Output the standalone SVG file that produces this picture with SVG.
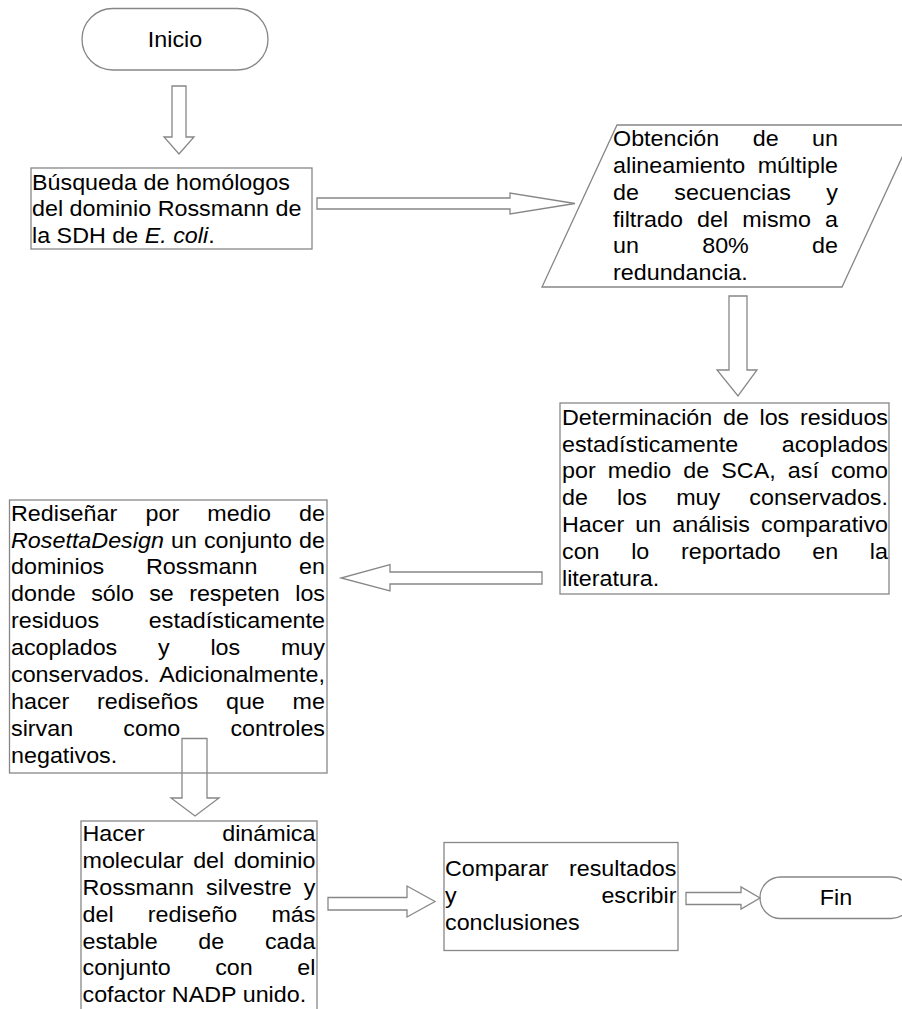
<svg xmlns="http://www.w3.org/2000/svg" width="902" height="1009" viewBox="0 0 902 1009">
<style>
.shape{fill:#fff;stroke:#878787;stroke-width:1.3}
.arrow{fill:none;stroke:#878787;stroke-width:1.3;stroke-linejoin:miter}
text{font-family:"Liberation Sans",Arial,sans-serif;font-size:22px;fill:#000}
.e{text-anchor:end}
.m{text-anchor:middle}
.i{font-style:italic}
</style>
<rect width="902" height="1009" fill="#fff"/>

<g id="n-inicio">
<rect class="shape" x="82" y="8.5" width="186" height="61.5" rx="30.75"/>
<g transform="translate(175 0) scale(1.06 1) translate(-175 0)"><text class="m" x="175" y="46.7">Inicio</text></g>
</g>

<g id="n-busqueda">
<rect class="shape" x="31" y="168" width="281" height="81"/>
<g transform="translate(32 0) scale(1.06 1) translate(-32 0)">
<text x="32" y="190">Búsqueda de homólogos</text>
<text x="32" y="216.5">del dominio Rossmann de</text>
<text x="32" y="243">la SDH de <tspan class="i">E. coli</tspan>.</text>
</g>
</g>

<g id="n-obtencion">
<polygon class="shape" points="617,125 917,125 842,287 542,287"/>
<g transform="translate(613 0) scale(1.06 1) translate(-613 0)">
<text y="146.5"><tspan x="613">Obtención</tspan><tspan x="744.83">de</tspan></text><text class="e" x="825.3" y="146.5">un</text>
<text x="613" y="173.2">alineamiento</text><text class="e" x="825.3" y="173.2">múltiple</text>
<text y="199.9"><tspan x="613">de</tspan><tspan x="670.86">secuencias</tspan></text><text class="e" x="825.3" y="199.9">y</text>
<text y="226.6"><tspan x="613">filtrado</tspan><tspan x="692.33">del</tspan><tspan x="734.99">mismo</tspan></text><text class="e" x="825.3" y="226.6">a</text>
<text y="253.3"><tspan x="613">un</tspan><tspan x="697.14">80%</tspan></text><text class="e" x="825.3" y="253.3">de</text>
<text x="613" y="280">redundancia.</text>
</g>
</g>

<g id="n-determinacion">
<rect class="shape" x="560" y="403" width="329" height="191"/>
<g transform="translate(562 0) scale(1.06 1) translate(-562 0)">
<text y="424.7"><tspan x="562">Determinación</tspan><tspan x="713.82">de</tspan><tspan x="748.29">los</tspan></text><text class="e" x="869.55" y="424.7">residuos</text>
<text x="562" y="451.6">estadísticamente</text><text class="e" x="869.55" y="451.6">acoplados</text>
<text y="478.5"><tspan x="562">por</tspan><tspan x="605.17">medio</tspan><tspan x="676.46">de</tspan><tspan x="712.3">SCA,</tspan><tspan x="775.03">así</tspan></text><text class="e" x="869.55" y="478.5">como</text>
<text y="505.4"><tspan x="562">de</tspan><tspan x="614.01">los</tspan><tspan x="669.68">muy</tspan></text><text class="e" x="869.55" y="505.4">conservados.</text>
<text y="532.3"><tspan x="562">Hacer</tspan><tspan x="631.09">un</tspan><tspan x="665.97">análisis</tspan></text><text class="e" x="869.55" y="532.3">comparativo</text>
<text y="559.2"><tspan x="562">con</tspan><tspan x="627.27">lo</tspan><tspan x="674.2">reportado</tspan><tspan x="798.17">en</tspan></text><text class="e" x="869.55" y="559.2">la</text>
<text x="562" y="586.1">literatura.</text>
</g>
</g>

<g id="n-redisenar">
<rect class="shape" x="9.5" y="500" width="317.5" height="273"/>
<g transform="translate(11 0) scale(1.06 1) translate(-11 0)">
<text y="520.7"><tspan x="11">Rediseñar</tspan><tspan x="137.86">por</tspan><tspan x="196.26">medio</tspan></text><text class="e" x="307.23" y="520.7">de</text>
<text y="547.6"><tspan x="11" class="i">RosettaDesign</tspan><tspan x="161.9">un</tspan><tspan x="192.98">conjunto</tspan></text><text class="e" x="307.23" y="547.6">de</text>
<text y="574.5"><tspan x="11">dominios</tspan><tspan x="138.32">Rossmann</tspan></text><text class="e" x="307.23" y="574.5">en</text>
<text y="601.4"><tspan x="11">donde</tspan><tspan x="86.6">sólo</tspan><tspan x="141.39">se</tspan><tspan x="179.06">respeten</tspan></text><text class="e" x="307.23" y="601.4">los</text>
<text x="11" y="628.3">residuos</text><text class="e" x="307.23" y="628.3">estadísticamente</text>
<text y="655.2"><tspan x="11">acoplados</tspan><tspan x="149.7">y</tspan><tspan x="199.12">los</tspan></text><text class="e" x="307.23" y="655.2">muy</text>
<text x="11" y="682.1">conservados.</text><text class="e" x="307.23" y="682.1">Adicionalmente,</text>
<text y="709"><tspan x="11">hacer</tspan><tspan x="92.21">rediseños</tspan><tspan x="213.77">que</tspan></text><text class="e" x="307.23" y="709">me</text>
<text y="735.9"><tspan x="11">sirvan</tspan><tspan x="116.93">como</tspan></text><text class="e" x="307.23" y="735.9">controles</text>
<text x="11" y="762.8">negativos.</text>
</g>
</g>

<g id="n-dinamica">
<rect class="shape" x="81" y="821" width="236" height="200"/>
<g transform="translate(82.5 0) scale(1.06 1) translate(-82.5 0)">
<text x="82.5" y="841">Hacer</text><text class="e" x="302.31" y="841">dinámica</text>
<text y="867.9"><tspan x="82.5">molecular</tspan><tspan x="186.9">del</tspan></text><text class="e" x="302.31" y="867.9">dominio</text>
<text y="894.8"><tspan x="82.5">Rossmann</tspan><tspan x="199.14">silvestre</tspan></text><text class="e" x="302.31" y="894.8">y</text>
<text y="921.7"><tspan x="82.5">del</tspan><tspan x="144.12">rediseño</tspan></text><text class="e" x="302.31" y="921.7">más</text>
<text y="948.6"><tspan x="82.5">estable</tspan><tspan x="191.79">de</tspan></text><text class="e" x="302.31" y="948.6">cada</text>
<text y="975.5"><tspan x="82.5">conjunto</tspan><tspan x="207.7">con</tspan></text><text class="e" x="302.31" y="975.5">el</text>
<text x="82.5" y="1002.4">cofactor NADP unido.</text>
</g>
</g>

<g id="n-comparar">
<rect class="shape" x="444" y="842.5" width="234" height="108"/>
<g transform="translate(445 0) scale(1.06 1) translate(-445 0)">
<text x="445" y="876">Comparar</text><text class="e" x="663.4" y="876">resultados</text>
<text x="445" y="902.9">y</text><text class="e" x="663.4" y="902.9">escribir</text>
<text x="445" y="929.8">conclusiones</text>
</g>
</g>

<g id="n-fin">
<rect class="shape" x="760" y="877" width="152" height="41.5" rx="20.75"/>
<g transform="translate(836 0) scale(1.06 1) translate(-836 0)"><text class="m" x="836" y="905">Fin</text></g>
</g>

<g id="connectors">
<polygon class="arrow" points="172,86 186,86 186,137 194,137 179,154 164,137 172,137"/>
<polygon class="arrow" points="317,198 510,198 510,193 575,203.5 510,214 510,209 317,209"/>
<polygon class="arrow" points="729,296 747,296 747,370 757,370 738,396 717,370 729,370"/>
<polygon class="arrow" points="542,572 390,572 390,564.5 341,578 390,591 390,584 542,584"/>
<polygon class="arrow" points="182,738.5 207,738.5 207,798 219,798 195,816 171,798 182,798"/>
<polygon class="arrow" points="328,897.5 407,897.5 407,886 435,901.5 407,917 407,910 328,910"/>
<polygon class="arrow" points="686,892.5 741,892.5 741,887 760,898 741,909 741,904.5 686,904.5"/>
</g>
</svg>
